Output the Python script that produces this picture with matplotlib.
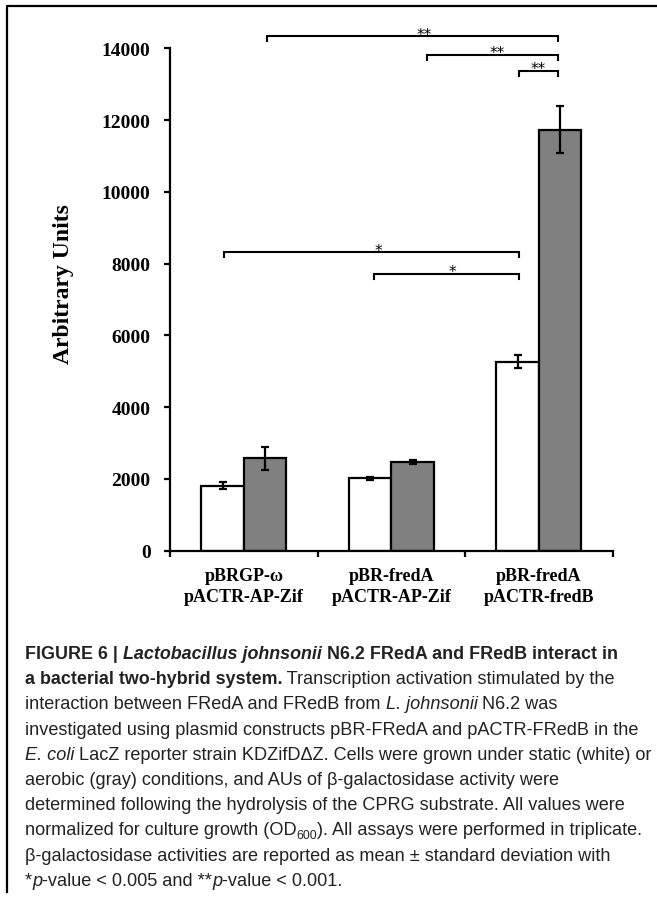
import numpy as np
import matplotlib
matplotlib.use("Agg")
import matplotlib.pyplot as plt
from matplotlib.lines import Line2D
from matplotlib.transforms import IdentityTransform

# data
groups = ["pBRGP-\u03c9\npACTR-AP-Zif", "pBR-fredA\npACTR-AP-Zif", "pBR-fredA\npACTR-fredB"]
static_vals = [1810, 2010, 5265]
static_err = [100, 45, 175]
aerobic_vals = [2575, 2475, 11730]
aerobic_err = [325, 55, 660]
y_ticks = [0, 2000, 4000, 6000, 8000, 10000, 12000, 14000]

# significance brackets: label, x start, x end, y level, label x
brackets = [
    ("**", 0.155, 2.131, 14330, 1.22),
    ("**", 1.243, 2.131, 13810, 1.72),
    ("**", 1.866, 2.131, 13360, 1.995),
    ("*", -0.134, 1.866, 8310, 0.91),
    ("*", 0.884, 1.866, 7700, 1.415),
]

caption = [
    [("FIGURE 6 | ", "b"), ("Lactobacillus johnsonii", "bi"), (" N6.2 FRedA and FRedB interact in", "b")],
    [("a bacterial two-hybrid system.", "b"), (" Transcription activation stimulated by the", "r")],
    [("interaction between FRedA and FRedB from ", "r"), ("L. johnsonii", "i"), (" N6.2 was", "r")],
    [("investigated using plasmid constructs pBR-FRedA and pACTR-FRedB in the", "r")],
    [("E. coli", "i"), (" LacZ reporter strain KDZifD\u0394Z. Cells were grown under static (white) or", "r")],
    [("aerobic (gray) conditions, and AUs of \u03b2-galactosidase activity were", "r")],
    [("determined following the hydrolysis of the CPRG substrate. All values were", "r")],
    [("normalized for culture growth (OD", "r"), ("600", "sub"), ("). All assays were performed in triplicate.", "r")],
    [("\u03b2-galactosidase activities are reported as mean \u00b1 standard deviation with", "r")],
    [("*", "r"), ("p", "i"), ("-value < 0.005 and **", "r"), ("p", "i"), ("-value < 0.001.", "r")],
]

W, H = 657, 903
fig = plt.figure(figsize=(W / 100, H / 100), dpi=100)
ax = fig.add_axes([170 / W, 1 - 551.6 / H, 442.7 / W, (551.6 - 49.3) / H])

serif = "Liberation Serif"
x = np.arange(len(groups))
bw = 0.288
err_kw = dict(ecolor="black", elinewidth=1.6, capsize=3, capthick=1.6)
ax.bar(x - bw / 2, static_vals, bw, yerr=static_err, color="white",
       edgecolor="black", linewidth=1.6, error_kw=err_kw, zorder=2)
ax.bar(x + bw / 2, aerobic_vals, bw, yerr=aerobic_err, color="#808080",
       edgecolor="black", linewidth=1.6, error_kw=err_kw, zorder=2)

ax.set_xlim(-0.5, 2.5)
ax.set_ylim(0, 14000)
ax.set_yticks(y_ticks)
ax.set_yticklabels([str(v) for v in y_ticks], fontfamily=serif,
                   fontweight="bold", fontsize=14)
ax.set_xticks(x)
ax.set_xticklabels(groups, fontfamily=serif, fontweight="bold", fontsize=13,
                   linespacing=1.25)
ax.set_xticks([-0.5, 0.5, 1.5, 2.5], minor=True)
ax.tick_params(axis="x", which="major", length=0, pad=12)
ax.tick_params(axis="x", which="minor", length=4, width=1.6, direction="out")
ax.tick_params(axis="y", length=4, width=1.6, pad=10)
for s in ["top", "right"]:
    ax.spines[s].set_visible(False)
for s in ["left", "bottom"]:
    ax.spines[s].set_linewidth(1.6)

drop = 140
for lab, x1, x2, yy, xl in brackets:
    ax.plot([x1, x1, x2, x2], [yy - drop, yy, yy, yy - drop], color="black",
            lw=1.5, clip_on=False, solid_joinstyle="miter")
    ax.annotate(lab, (xl, yy), xytext=(0, -1.5), textcoords="offset points",
                ha="center", va="baseline", fontsize=11,
                fontfamily="DejaVu Sans", annotation_clip=False)

fig.text(64 / W, 1 - 284 / H, "Arbitrary Units", rotation=90, ha="center",
         va="center", fontfamily=serif, fontweight="bold", fontsize=17)

# frame around the figure (top and left edges)
fig.add_artist(Line2D([7 / W, 7 / W, 1], [1 - 893 / H, 1 - 7 / H, 1 - 7 / H],
                      color="black", lw=1.6, transform=fig.transFigure))

# caption, laid out segment by segment
sans = "Liberation Sans"
cap_fs = 13.1
bold_fs = 12.9
styles = {
    "r": dict(fontweight="normal", fontstyle="normal", fontsize=cap_fs),
    "i": dict(fontweight="normal", fontstyle="italic", fontsize=cap_fs),
    "b": dict(fontweight="bold", fontstyle="normal", fontsize=bold_fs),
    "bi": dict(fontweight="bold", fontstyle="italic", fontsize=bold_fs),
    "sub": dict(fontweight="normal", fontstyle="normal", fontsize=cap_fs * 0.68),
}
renderer = fig.canvas.get_renderer()


def text_width(s, kw):
    a = fig.text(0, 0, "a" + s + "a", fontfamily=sans, transform=IdentityTransform(), **kw)
    b = fig.text(0, 0, "aa", fontfamily=sans, transform=IdentityTransform(), **kw)
    w = a.get_window_extent(renderer).width - b.get_window_extent(renderer).width
    a.remove()
    b.remove()
    return w


for i, line in enumerate(caption):
    base = H - (659 + 25.2 * i)
    xpos = 25
    for s, st in line:
        kw = styles[st]
        yb = base - 4 if st == "sub" else base
        fig.text(xpos, yb, s, fontfamily=sans, color="#222222",
                 transform=IdentityTransform(), va="baseline", ha="left", **kw)
        xpos += text_width(s, kw)

fig.savefig("out.png", dpi=100)
